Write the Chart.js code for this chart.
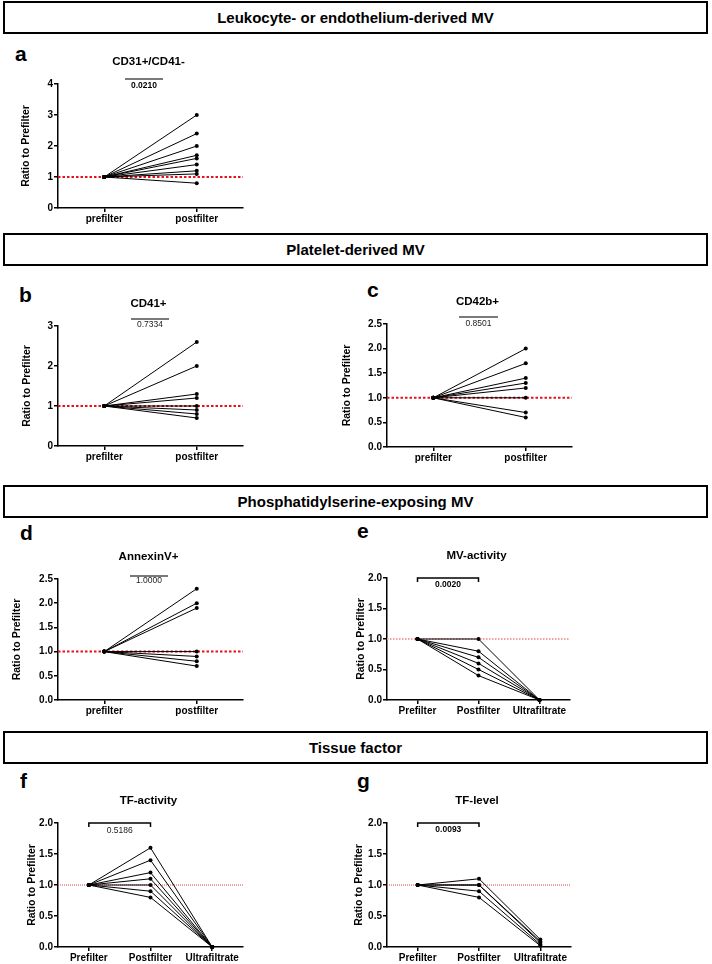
<!DOCTYPE html>
<html>
<head>
<meta charset="utf-8">
<script src="https://cdn.jsdelivr.net/npm/chart.js@4.4.1/dist/chart.umd.min.js"></script>
<style>
  body { margin: 0; background: #fff; overflow: hidden; }
  #page { position: relative; width: 712px; height: 964px; font-family: "Liberation Sans", Arial, sans-serif; }
  #page canvas { position: absolute; }
  .hdr {
    position: absolute; left: 3px; width: 705px; height: 33px;
    border: 2px solid #000; box-sizing: border-box;
    display: flex; align-items: center; justify-content: center;
    font-weight: bold; font-size: 15px;
  }
  .lbl { position: absolute; font-weight: bold; font-size: 21px; line-height: 21px; }
</style>
</head>
<body>
<div id="page">
  <div class="hdr" style="top:1px">Leukocyte- or endothelium-derived MV</div>
  <div class="hdr" style="top:233px">Platelet-derived MV</div>
  <div class="hdr" style="top:485px">Phosphatidylserine-exposing MV</div>
  <div class="hdr" style="top:731px">Tissue factor</div>
  <div class="lbl" style="left:15px;top:43px">a</div>
  <div class="lbl" style="left:19px;top:284px">b</div>
  <div class="lbl" style="left:367px;top:279px">c</div>
  <div class="lbl" style="left:20px;top:522px">d</div>
  <div class="lbl" style="left:357px;top:520px">e</div>
  <div class="lbl" style="left:20px;top:770px">f</div>
  <div class="lbl" style="left:357px;top:770px">g</div>
</div>
<script>
// categories
const twoGroups = ['prefilter', 'postfilter'];
const threeGroups = ['Prefilter', 'Postfilter', 'Ultrafiltrate'];

// y tick labels
const ticksA = [0, 1, 2, 3, 4];
const ticksB = [0, 1, 2, 3];
const ticksTo25 = [0.0, 0.5, 1.0, 1.5, 2.0, 2.5];
const ticksTo20 = [0.0, 0.5, 1.0, 1.5, 2.0];

// every sample is 1 at prefilter (ratio to itself)
const prefilterRatio = 1;

// ratio to prefilter, one value per sample
const cd31Post = [3.0, 2.4, 2.0, 1.7, 1.6, 1.4, 1.2, 1.1, 0.8];
const cd41Post = [2.6, 2.0, 1.3, 1.2, 1.0, 0.9, 0.8, 0.7];
const cd42bPost = [2.0, 1.7, 1.4, 1.3, 1.2, 1.0, 0.7, 0.6];
const annexinPost = [2.3, 2.0, 1.9, 1.0, 0.9, 0.8, 0.7];
const mvActPost = [1.0, 0.8, 0.7, 0.6, 0.5, 0.4];
const mvActUltra = [0, 0, 0, 0, 0, 0];
const tfActPost = [1.6, 1.4, 1.2, 1.1, 1.0, 0.9, 0.8];
const tfActUltra = [0, 0, 0, 0, 0, 0, 0];
const tfLevelPost = [1.1, 1.0, 1.0, 0.9, 0.8];
const tfLevelUltra = [0.12, 0.09, 0.07, 0.04, 0.02];

// titles and p-values
const titles = ['CD31+/CD41-', 'CD41+', 'CD42b+', 'AnnexinV+', 'MV-activity', 'TF-activity', 'TF-level'];
const pValues = ['0.0210', '0.7334', '0.8501', '1.0000', '0.0020', '0.5186', '0.0093'];

Chart.defaults.font.family = '"Liberation Sans", Arial, sans-serif';
Chart.defaults.color = '#000';

const FONT = '"Liberation Sans", Arial, sans-serif';

// L/R/T/B = plot area edges on the page, W = room left of the y axis
const panels = [
  { L: 58, R: 245, T: 84, B: 208, W: 38, labels: twoGroups, ticks: ticksA, dec: 0, post: cd31Post,
    ref: { color: '#e8101a', width: 2, dash: [2.5, 2] },
    sig: { kind: 'bar', x0: 67, x1: 105, dy: -5, ty: 2, bold: true } },
  { L: 58, R: 245, T: 326, B: 446, W: 37, labels: twoGroups, ticks: ticksB, dec: 0, post: cd41Post,
    ref: { color: '#e8101a', width: 2, dash: [2.5, 2] },
    sig: { kind: 'bar', x0: 73, x1: 111, dy: -7, ty: -1, bold: false } },
  { L: 387, R: 574, T: 324, B: 447, W: 46, labels: twoGroups, ticks: ticksTo25, dec: 1, post: cd42bPost,
    ref: { color: '#e8101a', width: 2, dash: [2.5, 2] },
    sig: { kind: 'bar', x0: 72, x1: 111, dy: -7, ty: 0, bold: false } },
  { L: 58, R: 245, T: 579, B: 700, W: 47, labels: twoGroups, ticks: ticksTo25, dec: 1, post: annexinPost,
    ref: { color: '#e8101a', width: 2, dash: [2.5, 2] },
    sig: { kind: 'bar', x0: 72, x1: 110, dy: -3, ty: 2, bold: false } },
  { L: 387, R: 572, T: 578, B: 700, W: 32, labels: threeGroups, ticks: ticksTo20, dec: 1, post: mvActPost, ultra: mvActUltra,
    ref: { color: '#f2a0a0', width: 2, dash: [1.5, 1.5] },
    sig: { kind: 'bracket', ty: 7, bold: true } },
  { L: 58, R: 245, T: 823, B: 947, W: 32, labels: threeGroups, ticks: ticksTo20, dec: 1, post: tfActPost, ultra: tfActUltra,
    ref: { color: '#e04848', width: 1, dash: [1, 1] },
    sig: { kind: 'bracket', ty: 8, bold: false } },
  { L: 387, R: 573, T: 823, B: 947, W: 34, labels: threeGroups, ticks: ticksTo20, dec: 1, post: tfLevelPost, ultra: tfLevelUltra,
    ref: { color: '#e04848', width: 1, dash: [1, 1] },
    sig: { kind: 'bracket', ty: 7, bold: true } }
];

function decorPlugin(p, idx) {
  return {
    id: 'decor' + idx,
    beforeDatasetsDraw(chart) {
      const { ctx, chartArea: a, scales } = chart;
      const y = scales.y.getPixelForValue(prefilterRatio);
      ctx.save();
      ctx.strokeStyle = p.ref.color;
      ctx.lineWidth = p.ref.width;
      ctx.setLineDash(p.ref.dash);
      ctx.beginPath();
      ctx.moveTo(a.left, y);
      ctx.lineTo(a.right, y);
      ctx.stroke();
      ctx.restore();
    },
    afterDraw(chart) {
      const { ctx, chartArea: a, scales } = chart;
      ctx.save();
      // panel title
      ctx.fillStyle = '#000';
      ctx.textAlign = 'center';
      ctx.textBaseline = 'middle';
      ctx.font = 'bold 11.5px ' + FONT;
      ctx.fillText(titles[idx], (a.left + a.right) / 2 - 2, a.top - 22);
      // significance mark
      const s = p.sig;
      let x0, x1;
      if (s.kind === 'bar') {
        x0 = a.left + s.x0; x1 = a.left + s.x1;
        ctx.strokeStyle = '#7a7a7a';
        ctx.lineWidth = 2;
        ctx.beginPath();
        ctx.moveTo(x0, a.top + s.dy);
        ctx.lineTo(x1, a.top + s.dy);
        ctx.stroke();
      } else {
        x0 = scales.x.getPixelForValue(0); x1 = scales.x.getPixelForValue(1);
        ctx.strokeStyle = '#000';
        ctx.lineWidth = 1.5;
        ctx.beginPath();
        ctx.moveTo(x0, a.top + 4);
        ctx.lineTo(x0, a.top);
        ctx.lineTo(x1, a.top);
        ctx.lineTo(x1, a.top + 4);
        ctx.stroke();
      }
      ctx.font = (s.bold ? 'bold ' : '') + '8.5px ' + FONT;
      ctx.fillStyle = s.bold ? '#000' : '#222';
      ctx.fillText(pValues[idx], (x0 + x1) / 2, a.top + s.ty);
      ctx.restore();
    }
  };
}

function makePanel(p, idx) {
  const cv = document.createElement('canvas');
  cv.width = p.R - p.L + p.W + 2;
  cv.height = p.B - p.T + 60;
  cv.style.left = (p.L - p.W) + 'px';
  cv.style.top = (p.T - 30) + 'px';
  document.getElementById('page').appendChild(cv);

  const datasets = p.post.map((v, i) => ({
    data: p.ultra ? [prefilterRatio, v, p.ultra[i]] : [prefilterRatio, v],
    borderColor: '#000',
    borderWidth: 1,
    pointRadius: 2,
    pointBackgroundColor: '#000',
    pointBorderWidth: 0,
    clip: false
  }));

  new Chart(cv, {
    type: 'line',
    data: { labels: p.labels, datasets },
    options: {
      responsive: false,
      animation: false,
      layout: { padding: { top: 30, right: 2, left: 0, bottom: 0 } },
      plugins: { legend: { display: false }, tooltip: { enabled: false } },
      scales: {
        x: {
          type: 'category',
          offset: true,
          grid: { offset: false, drawOnChartArea: false, drawTicks: true, tickLength: 4, color: '#000', lineWidth: 1.5 },
          border: { display: true, color: '#000', width: 1.5 },
          ticks: { font: { size: 10, weight: 'bold' }, color: '#000', padding: 1, maxRotation: 0, autoSkip: false },
          afterFit(scale) { scale.height = 30; }
        },
        y: {
          min: p.ticks[0],
          max: p.ticks[p.ticks.length - 1],
          afterBuildTicks(scale) { scale.ticks = p.ticks.map(v => ({ value: v })); },
          grid: { drawOnChartArea: false, drawTicks: true, tickLength: 4, color: '#000', lineWidth: 1.5 },
          border: { display: true, color: '#000', width: 1.5 },
          ticks: {
            font: { size: 10, weight: 'bold' }, color: '#000', padding: 1,
            callback: v => v.toFixed(p.dec)
          },
          title: {
            display: true, text: 'Ratio to Prefilter', color: '#000',
            font: { size: 10.5, weight: 'bold' }, padding: { top: 0, bottom: 0 }
          },
          afterFit(scale) { scale.width = p.W; }
        }
      }
    },
    plugins: [decorPlugin(p, idx)]
  });
}

panels.forEach(makePanel);
</script>
</body>
</html>
